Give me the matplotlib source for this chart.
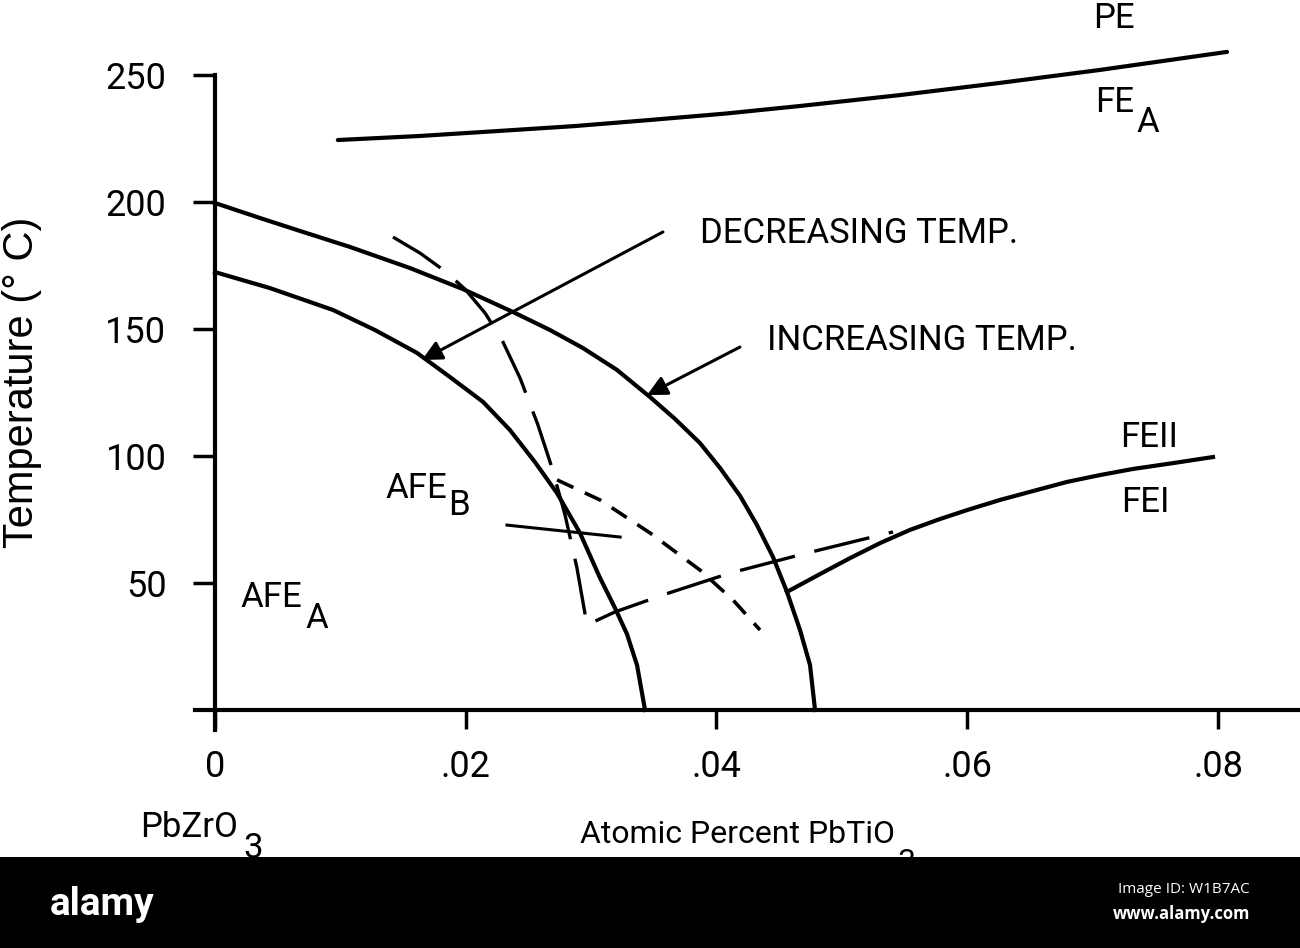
import matplotlib
matplotlib.use("Agg")
import matplotlib.pyplot as plt
from matplotlib.patches import Rectangle

plt.rcParams['font.family'] = ['Roboto', 'DejaVu Sans']

# phase boundaries (x = fraction PbTiO3, T in deg C)
pe_x = [0.0098, 0.01635, 0.02273, 0.02871, 0.0347, 0.04068, 0.04666,
        0.05464, 0.06262, 0.07059, 0.08072]
pe_t = [224.4, 226.0, 228.0, 229.9, 232.3, 234.8, 237.8,
        242.1, 246.9, 252.0, 259.1]

heat_x = [0.0, 0.00359, 0.00678, 0.01077, 0.01555, 0.01978, 0.02377, 0.02672,
          0.02935, 0.03206, 0.0347, 0.03669, 0.03868, 0.04028, 0.04188,
          0.04323, 0.04451, 0.04562, 0.04666, 0.04746, 0.04786]
heat_t = [199.6, 193.7, 188.6, 182.3, 174.0, 165.7, 156.7, 149.6,
          142.5, 133.9, 123.2, 114.6, 105.1, 95.3, 84.3,
          72.8, 60.2, 46.5, 31.5, 17.7, 0.0]

cool_x = [0.0, 0.00439, 0.00941, 0.01276, 0.01611, 0.01874, 0.02138, 0.02353,
          0.02552, 0.02728, 0.02911, 0.03071, 0.0319, 0.03286, 0.03366, 0.0343]
cool_t = [172.4, 166.1, 157.5, 149.6, 140.6, 131.1, 121.3, 110.2,
          97.6, 85.4, 69.7, 52.0, 40.2, 29.9, 17.7, 0.0]

afeb_x = [0.0142, 0.01635, 0.01834, 0.01994, 0.02154, 0.02289, 0.02433, 0.02576,
          0.02688, 0.02792, 0.02887, 0.02967, 0.0319, 0.03597, 0.04108,
          0.04722, 0.05408]
afeb_t = [186.2, 179.9, 172.8, 165.7, 156.3, 145.7, 130.7, 112.2,
          95.3, 76.8, 55.9, 33.5, 38.6, 45.7, 53.9,
          61.8, 70.1]

short_x = [0.02728, 0.03071, 0.0347, 0.03868, 0.04132, 0.04347]
short_t = [90.6, 82.7, 69.7, 55.1, 43.3, 31.5]

fe_x = [0.04562, 0.04825, 0.05065, 0.05304, 0.05543, 0.05783, 0.05998,
        0.06261, 0.06524, 0.06796, 0.07059, 0.07322, 0.07641, 0.0796]
fe_t = [46.5, 53.5, 59.8, 65.7, 70.9, 75.2, 78.7,
        82.7, 86.2, 89.8, 92.5, 94.9, 97.2, 99.6]

xticks = [0, 0.02, 0.04, 0.06, 0.08]
xtick_labels = ['0', '.02', '.04', '.06', '.08']
yticks = [50, 100, 150, 200, 250]

fig = plt.figure(figsize=(13, 9.48), dpi=100)
ax = fig.add_axes([0, 0, 1, 1])
ax.set_xlim(-0.017148, 0.08654)
ax.set_ylim(-93.7, 279.53)

lw = 3
ax.plot(pe_x, pe_t, color='black', lw=lw, solid_capstyle='round')
ax.plot(heat_x, heat_t, color='black', lw=lw)
ax.plot(cool_x, cool_t, color='black', lw=lw)
ax.plot(fe_x, fe_t, color='black', lw=lw)
ax.plot(afeb_x, afeb_t, color='black', lw=2.4, dashes=(17, 6))
ax.plot(short_x, short_t, color='black', lw=2.6, dashes=(5, 3.5))

# spines as the drawn axes
for s in ['top', 'right']:
    ax.spines[s].set_visible(False)
ax.spines['left'].set_position(('data', 0))
ax.spines['bottom'].set_position(('data', 0))
ax.spines['left'].set_bounds(-8, 250)
ax.spines['bottom'].set_bounds(-0.0016, 0.0865)
ax.spines['left'].set_linewidth(3)
ax.spines['bottom'].set_linewidth(3)

ax.set_yticks(yticks)
ax.set_yticklabels([str(v) for v in yticks])
ax.set_xticks(xticks)
ax.set_xticklabels(xtick_labels)
ax.tick_params(axis='y', direction='out', length=16, width=2.5, pad=19, labelsize=26)
ax.tick_params(axis='x', direction='out', length=14, width=2.5, pad=14, labelsize=26)

ax.text(-0.01537, 129, 'Temperature (° C)', rotation=90, ha='center', va='center',
        fontsize=30, family=['Liberation Sans', 'DejaVu Sans'])

fs = 25
ax.text(0.07003, 268.5, 'PE', fontsize=fs)
ax.text(0.0702, 235.4, 'FE', fontsize=fs)
ax.text(0.0735, 227.6, 'A', fontsize=fs)
ax.text(0.0387, 183.9, 'DECREASING TEMP.', fontsize=fs)
ax.text(0.0440, 141.7, 'INCREASING TEMP.', fontsize=fs)
ax.text(0.0722, 103.5, 'FEII', fontsize=fs)
ax.text(0.0723, 78.0, 'FEI', fontsize=fs)
ax.text(0.01356, 83.5, 'AFE', fontsize=fs)
ax.text(0.0186, 76.8, 'B', fontsize=fs)
ax.text(0.0020, 40.6, 'AFE', fontsize=fs)
ax.text(0.00718, 32.3, 'A', fontsize=fs)
ax.text(-0.00598, -50.0, 'PbZrO', fontsize=25)
ax.text(0.0023, -58.3, '3', fontsize=25)
ax.text(0.0291, -52.4, 'Atomic Percent PbTiO', fontsize=23)
ax.text(0.0544, -63.5, '3', fontsize=23)

ax.plot([0.02329, 0.03231], [72.8, 68.1], color='black', lw=2.2)

arrow = dict(arrowstyle='-|>', lw=2.2, color='black', mutation_scale=30,
             shrinkA=0, shrinkB=0)
ax.annotate('', xy=(0.01651, 137.8), xytext=(0.03573, 188.2), arrowprops=arrow)
ax.annotate('', xy=(0.03446, 124.0), xytext=(0.04187, 142.9), arrowprops=arrow)

# stock-photo footer band
fig.add_artist(Rectangle((0, 0), 1, 91 / 948, transform=fig.transFigure,
                         facecolor='black', edgecolor='none', zorder=10))
fig.text(50 / 1300, 0.046, 'alamy', color='white', fontsize=28, fontweight='bold',
         va='center', ha='left', zorder=11)
fig.text(1250 / 1300, 0.0622, 'Image ID: W1B7AC', color='white', fontsize=11,
         va='center', ha='right', family=['Open Sans', 'DejaVu Sans'], zorder=11)
fig.text(1250 / 1300, 0.0359, 'www.alamy.com', color='white', fontsize=12,
         fontweight='bold', va='center', ha='right',
         family=['Open Sans', 'DejaVu Sans'], zorder=11)

fig.savefig('out.png', dpi=100)
